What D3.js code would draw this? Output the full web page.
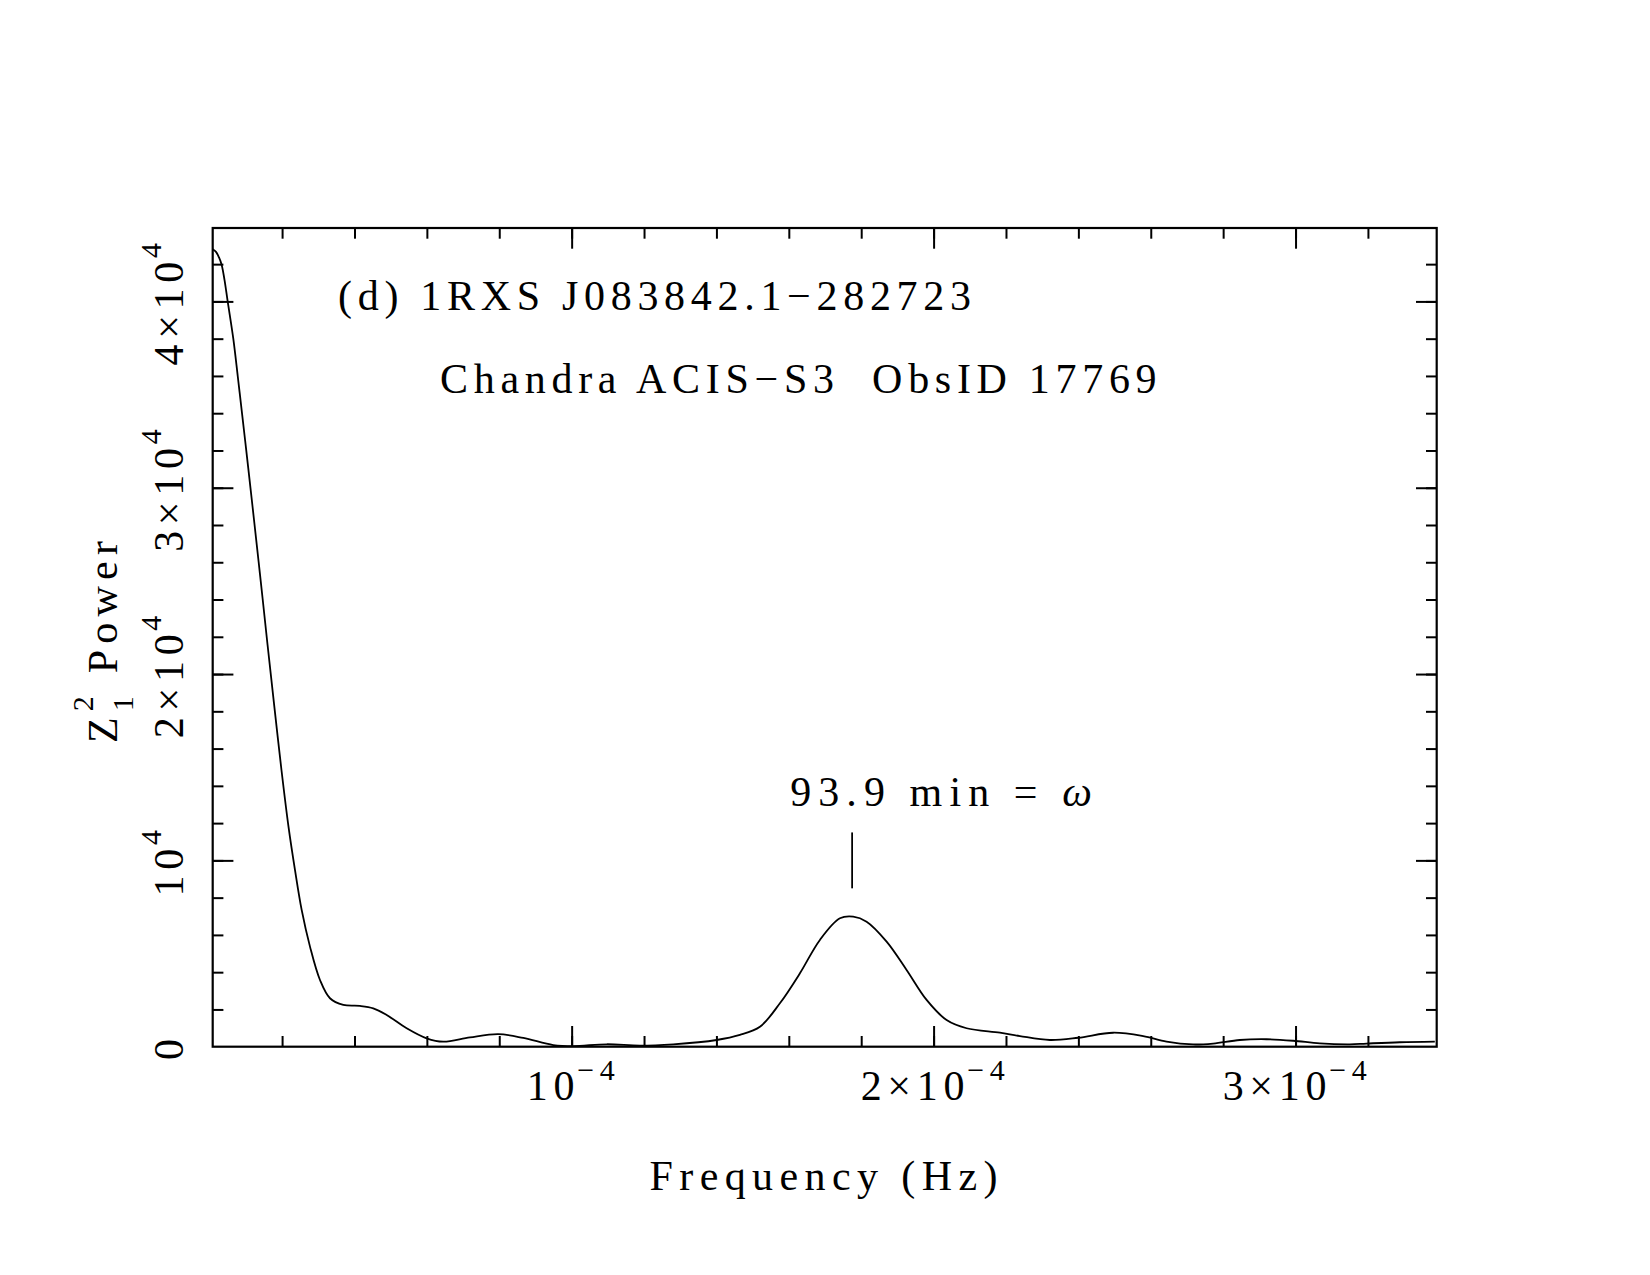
<!DOCTYPE html>
<html>
<head>
<meta charset="utf-8">
<script src="https://cdnjs.cloudflare.com/ajax/libs/d3/7.8.5/d3.min.js"></script>
<style>
body	{ margin: 0; background: #fff; }
svg text	{ font-family: "Liberation Serif", "Times New Roman", serif; font-size: 42px; letter-spacing: 5.7px; fill: #000; white-space: pre; }
</style>
</head>
<body>
<svg id="chart" width="1650" height="1275"></svg>
<script>

// Z_1^2 periodogram: frequency (Hz) and power
var freq = [
	0.83e-6, 1.74e-6, 2.57e-6, 3.31e-6, 4.09e-6, 4.97e-6, 6.52e-6, 7.76e-6,
	8.98e-6, 10.14e-6, 11.27e-6, 12.40e-6, 13.51e-6, 14.61e-6, 15.99e-6, 17.76e-6,
	19.83e-6, 21.77e-6, 23.56e-6, 25.41e-6, 27.71e-6, 30.47e-6, 33.23e-6, 36.91e-6,
	41.51e-6, 45.19e-6, 48.90e-6, 54.42e-6, 59.94e-6, 64.53e-6, 71.91e-6, 79.72e-6,
	86.63e-6, 94.92e-6, 100.44e-6, 109.67e-6, 118.87e-6, 128.07e-6, 140.06e-6, 146.49e-6,
	152.02e-6, 157.54e-6, 163.07e-6, 168.59e-6, 174.12e-6, 177.79e-6, 181.49e-6, 187.02e-6,
	192.54e-6, 198.07e-6, 203.59e-6, 209.12e-6, 218.32e-6, 223.84e-6, 232.13e-6, 239.94e-6,
	249.61e-6, 257.90e-6, 264.36e-6, 271.71e-6, 277.24e-6, 284.61e-6, 291.99e-6, 299.34e-6,
	306.71e-6, 315.00e-6, 319.61e-6, 328.81e-6, 338.48e-6
];

var power = [
	42800, 42660, 42360, 41960, 41160, 40000, 38000, 35970,
	33910, 31940, 29980, 28000, 26040, 24070, 21560, 18430,
	14850, 11810, 9490, 7340, 5370, 3580, 2600, 2240,
	2190, 2060, 1700, 990, 450, 270, 500, 670,
	470, 90, 30, 130, 60, 130, 360, 630,
	1070, 2330, 3940, 5730, 6890, 6980, 6710, 5640,
	4120, 2510, 1430, 990, 750, 570, 360, 480,
	750, 570, 270, 120, 170, 360, 400, 320,
	180, 130, 170, 240, 270
];

// marked peak: 93.9 min
var peakfreq = 1 / (93.9 * 60);
var peakmark = [8500, 11500];		// power range of the marker bar

// axis ticks and labels ([base, superscript])
var xmajor = [1e-4, 2e-4, 3e-4];
var xlabels = [ ["10", "−4"], ["2×10", "−4"], ["3×10", "−4"] ];
var ymajor = [0, 1e4, 2e4, 3e4, 4e4];
var ylabels = [ ["0", ""], ["10", "4"], ["2×10", "4"], ["3×10", "4"], ["4×10", "4"] ];

var svg = d3.select("#chart");

var x = d3.scaleLinear().domain([0.83e-6, 3.39e-4]).range([212.7, 1436.7]);
var y = d3.scaleLinear().domain([0, 43940]).range([1046.7, 228]);

var xminor = d3.range(2e-5, 3.39e-4, 2e-5);
var yminor = d3.range(2000, 43940, 2000);

// inward ticks on all four sides
function ticks(axis, vals, len, tr)	{

	svg.append("g")
		.attr("transform", tr)
		.attr("stroke-width", 2)
		.call(axis.tickValues(vals).tickSize(-len).tickSizeOuter(0).tickFormat(""))
		.call(g => g.select(".domain").remove());

}

var x0 = x.range()[0], x1 = x.range()[1],
	y0 = y.range()[0], y1 = y.range()[1];

[ [xminor, 10.7], [xmajor, 20.7] ].forEach( ([v, l]) => {
	ticks(d3.axisBottom(x), v, l, `translate(0,${y0})`);
	ticks(d3.axisTop(x), v, l, `translate(0,${y1})`);
});
[ [yminor, 10.7], [ymajor.slice(1), 20.7] ].forEach( ([v, l]) => {
	ticks(d3.axisLeft(y), v, l, `translate(${x0},0)`);
	ticks(d3.axisRight(y), v, l, `translate(${x1},0)`);
});

// frame
svg.append("rect")
	.attr("x", x0).attr("y", y1)
	.attr("width", x1 - x0).attr("height", y0 - y1)
	.attr("fill", "none").attr("stroke", "#000").attr("stroke-width", 2.2);

// curve
var line = d3.line()
	.x(d => x(d[0]))
	.y(d => y(d[1]))
	.curve(d3.curveCatmullRom.alpha(0.5));

svg.append("path")
	.datum(d3.zip(freq, power))
	.attr("d", line)
	.attr("fill", "none")
	.attr("stroke", "#000")
	.attr("stroke-width", 1.8);

// peak marker
svg.append("line")
	.attr("x1", x(peakfreq)).attr("x2", x(peakfreq))
	.attr("y1", y(peakmark[0])).attr("y2", y(peakmark[1]))
	.attr("stroke", "#000").attr("stroke-width", 1.8);

var ann = svg.append("text")
	.attr("x", x(peakfreq) - 62)
	.attr("y", 805.7)
	.style("letter-spacing", "7.1px");
ann.append("tspan").text("93.9 min = ");
ann.append("tspan").style("font-style", "italic").text("ω");

// x tick labels
xmajor.forEach( (v, i) => {

	var t = svg.append("text")
		.attr("x", x(v) + 2)
		.attr("y", 1100)
		.attr("text-anchor", "middle");
	t.append("tspan").text(xlabels[i][0]);
	t.append("tspan").attr("dx", -3).attr("dy", -20).style("font-size", "30px").text(xlabels[i][1]);

});

// y tick labels, rotated
ymajor.forEach( (v, i) => {

	var t = svg.append("text")
		.attr("transform", `translate(183,${y(v)}) rotate(-90)`)
		.attr("text-anchor", "middle");
	t.append("tspan").text(ylabels[i][0]);
	if(ylabels[i][1])
		t.append("tspan").attr("dx", -2).attr("dy", -22).style("font-size", "30px").text(ylabels[i][1]);

});

// axis titles
svg.append("text")
	.attr("x", (x0 + x1) / 2 + 2)
	.attr("y", 1190)
	.attr("text-anchor", "middle")
	.style("letter-spacing", "6.4px")
	.text("Frequency (Hz)");

var yt = svg.append("text")
	.attr("transform", "translate(117,743) rotate(-90)")
	.style("letter-spacing", "6.2px");
yt.append("tspan").text("Z");
yt.append("tspan").attr("dy", 16).style("font-size", "30px").text("1");
yt.append("tspan").attr("dx", -21.2).attr("dy", -40).style("font-size", "30px").text("2");
yt.append("tspan").attr("dy", 24).text(" Power");

// panel titles
svg.append("text")
	.attr("x", 338).attr("y", 310)
	.text("(d) 1RXS J083842.1−282723");

svg.append("text")
	.attr("x", 440).attr("y", 392.7)
	.text("Chandra ACIS−S3  ObsID 17769");

</script>
</body>
</html>
